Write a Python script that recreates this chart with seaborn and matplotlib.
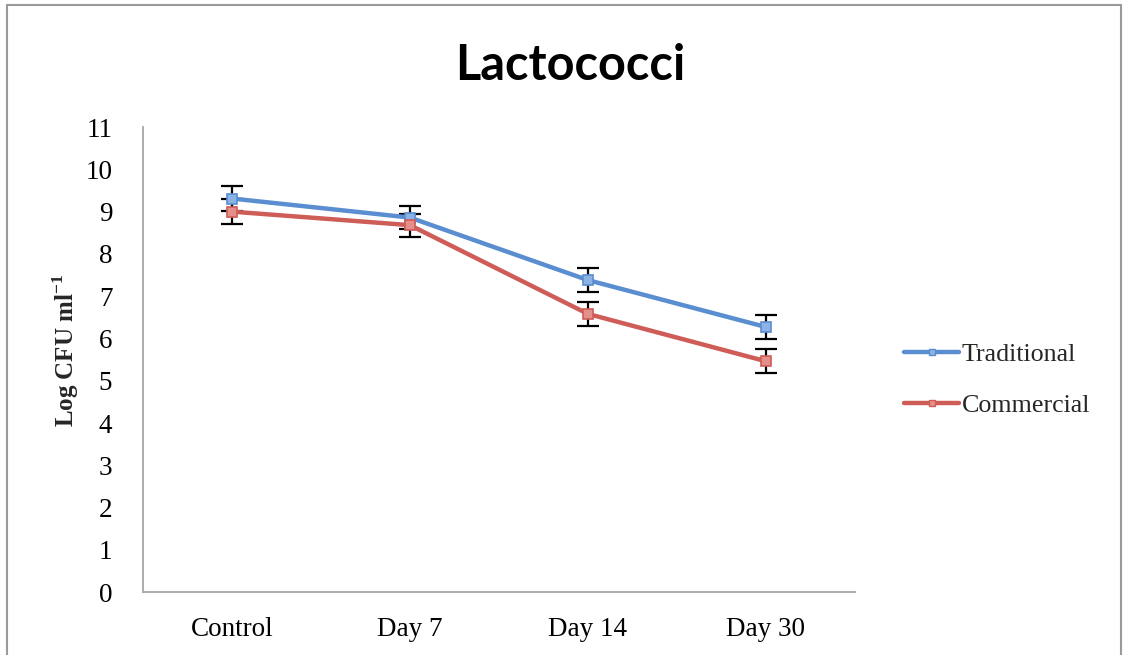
import numpy as np
import pandas as pd
import matplotlib
matplotlib.use("Agg")
import matplotlib.pyplot as plt
import seaborn as sns
from matplotlib.patches import Rectangle
from matplotlib.lines import Line2D

days = ["Control", "Day 7", "Day 14", "Day 30"]
traditional = [9.31, 8.86, 7.38, 6.27]
commercial = [9.00, 8.68, 6.58, 5.46]
traditional_err = [0.30, 0.28, 0.28, 0.28]
commercial_err = [0.29, 0.27, 0.28, 0.28]
y_ticks = list(range(0, 12))

sns.set_style("white")
plt.rcParams["font.family"] = ["Liberation Serif", "DejaVu Serif"]
plt.rcParams["mathtext.fontset"] = "custom"
plt.rcParams["mathtext.bf"] = "Liberation Serif:bold"
plt.rcParams["mathtext.rm"] = "Liberation Serif"

df = pd.DataFrame({
    "day": days * 2,
    "value": traditional + commercial,
    "series": ["Traditional"] * 4 + ["Commercial"] * 4,
})

colors = {"Traditional": "#5A8ED0", "Commercial": "#CE5C57"}
face = {"Traditional": "#8DB3E6", "Commercial": "#E58F8A"}

fig = plt.figure(figsize=(11.25, 6.55), dpi=100)
ax = fig.add_axes([0.127, 0.096, 0.633, 0.71])

sns.lineplot(data=df, x="day", y="value", hue="series", palette=colors,
             lw=3.2, ax=ax, sort=False, legend=False)

# error bars + small square markers
for name, vals, errs in [("Traditional", traditional, traditional_err),
                         ("Commercial", commercial, commercial_err)]:
    xs = np.arange(len(days))
    ax.errorbar(xs, vals, yerr=errs, fmt="none", ecolor="black",
                elinewidth=1.6, capsize=8, capthick=1.6, zorder=1)
    ax.plot(xs, vals, ls="none", marker="s", ms=7, mfc=face[name],
            mec=colors[name], mew=1.2, zorder=3)

ax.set_xlim(-0.5, 3.5)
ax.set_ylim(0, 11)
ax.set_yticks(y_ticks)
ax.tick_params(axis="both", length=0, labelsize=19.5, colors="black")
ax.tick_params(axis="y", pad=22)
ax.tick_params(axis="x", pad=18)
ax.set_xlabel("")
ax.set_ylabel(r"Log CFU ml$^{\mathbf{-1}}$", fontsize=18, fontweight="bold")
ax.yaxis.set_label_coords(-0.087, 0.52)
for s in ["top", "right"]:
    ax.spines[s].set_visible(False)
for s in ["left", "bottom"]:
    ax.spines[s].set_color("#A6A6A6")
    ax.spines[s].set_linewidth(1.3)

fig.suptitle("Lactococci", x=0.507, y=0.935, fontsize=35, fontweight="bold",
             color="black", family=["Lato", "DejaVu Sans"])

# legend
handles = [Line2D([], [], color=colors[n], lw=3.2, marker="s", ms=5,
                  mfc=face[n], mec=colors[n]) for n in ["Traditional", "Commercial"]]
fig.legend(handles, ["Traditional", "Commercial"], loc="center left",
           bbox_to_anchor=(0.783, 0.42), frameon=False, fontsize=18.7,
           handlelength=2.1, handletextpad=0.1, labelspacing=1.1)

# outer frame
fig.patches.append(Rectangle((0.006, -0.05), 0.99, 1.042, transform=fig.transFigure,
                             fill=False, edgecolor="#9A9A9A", lw=1.5))

fig.savefig("out.png", dpi=100)
